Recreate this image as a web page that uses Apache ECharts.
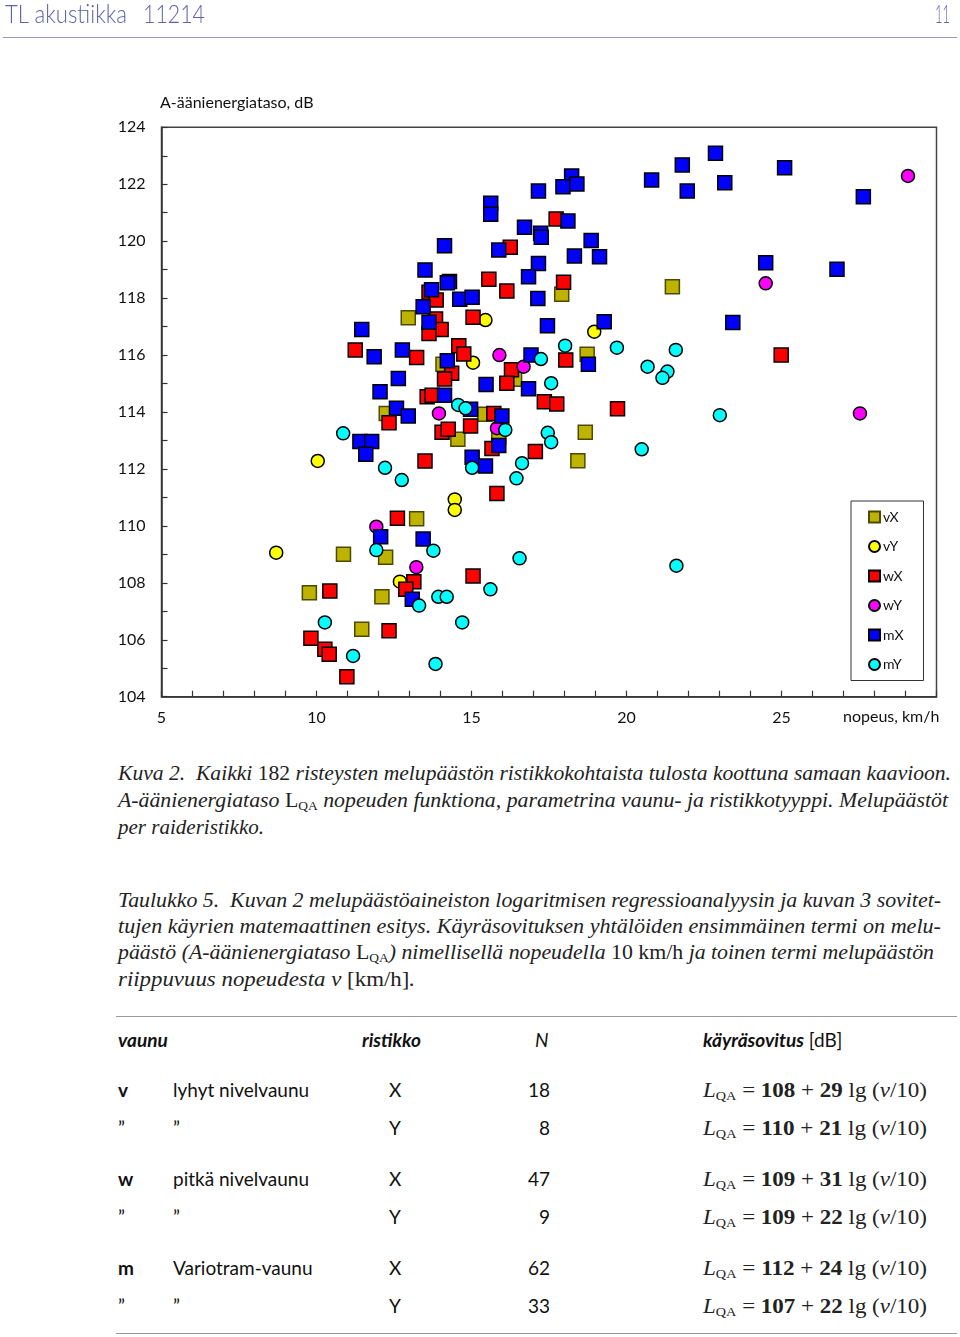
<!DOCTYPE html>
<html><head><meta charset="utf-8">
<script src="https://cdn.jsdelivr.net/npm/echarts@6/dist/echarts.min.js"></script>
<style>
html,body{margin:0;padding:0;background:#fff;}
body{width:960px;height:1337px;position:relative;overflow:hidden;}
#chart{position:absolute;left:0;top:0;width:960px;height:740px;}
.t{position:absolute;white-space:nowrap;transform-origin:0 50%;}
.hdr{font-family:Lato,"Open Sans",sans-serif;color:#5d62ad;font-size:26px;font-weight:300;}
.cap{font-family:"Liberation Serif","DejaVu Serif",serif;font-style:italic;font-size:21px;color:#222;line-height:26px;}
.cap .u{font-style:normal;}
.cap sub,.f sub{font-size:62%;vertical-align:-0.25em;font-style:normal;}
.tab{font-family:Lato,"Open Sans",sans-serif;font-size:19px;color:#111;line-height:24px;}
.f{font-family:"Liberation Serif","DejaVu Serif",serif;font-size:21px;color:#222;line-height:24px;}
.f i{font-style:italic;}
.rule{position:absolute;height:0;border-top:1.5px solid #999;}
</style></head>
<body>
<div id="chart"></div>

<div class="t hdr" data-w="122" style="left:5px;top:-3px;">TL akustiikka</div>
<div class="t hdr" data-w="62" style="left:143px;top:-3px;">11214</div>
<div class="t hdr" data-w="15" style="left:935px;top:-3px;">11</div>
<div class="rule" style="left:3px;top:37px;width:954px;border-top:1.5px solid #9a9ac0;"></div>

<div class="t cap" data-w="833" style="left:118px;top:760px;">Kuva 2.&nbsp; Kaikki <span class="u">182</span> risteysten melupäästön ristikkokohtaista tulosta koottuna samaan kaavioon.</div>
<div class="t cap" data-w="830" style="left:118px;top:787px;">A-äänienergiataso <span class="u">L<sub>QA</sub></span> nopeuden funktiona, parametrina vaunu- ja ristikkotyyppi. Melupäästöt</div>
<div class="t cap" data-w="146" style="left:118px;top:814px;">per raideristikko.</div>

<div class="t cap" data-w="823" style="left:118px;top:887px;">Taulukko 5.&nbsp; Kuvan 2 melupäästöaineiston logaritmisen regressioanalyysin ja kuvan 3 sovitet-</div>
<div class="t cap" data-w="823" style="left:118px;top:913px;">tujen käyrien matemaattinen esitys. Käyräsovituksen yhtälöiden ensimmäinen termi on melu-</div>
<div class="t cap" data-w="816" style="left:118px;top:939px;">päästö (A-äänienergiataso <span class="u">L<sub>QA</sub></span>) nimellisellä nopeudella <span class="u">10 km/h</span> ja toinen termi melupäästön</div>
<div class="t cap" data-w="297" style="left:118px;top:966px;">riippuvuus nopeudesta <span>v</span> <span class="u">[km/h]</span>.</div>

<div class="rule" style="left:116px;top:1016px;width:841px;"></div>
<div class="rule" style="left:116px;top:1333px;width:841px;"></div>

<div id="table"></div>

<script>
// ---------- DATA ----------
const xTickLabels = ['5', '10', '15', '20', '25'];
const yTickLabels = ['104', '106', '108', '110', '112', '114', '116', '118', '120', '122', '124'];
const seriesNames = ['vX', 'vY', 'wX', 'wY', 'mX', 'mY'];

const vX = [[12.96,117.31],[17.91,118.14],[18.73,116.03],[14.08,115.68],[16.39,115.15],[15.43,113.92],
  [12.25,113.95],[21.48,118.40],[14.56,113.04],[18.67,113.29],[18.43,112.29],[13.23,110.25],
  [12.23,108.90],[12.11,107.51],[10.87,109.00],[9.77,107.65],[11.46,106.37],[15.88,113.12]];

const vY = [[15.45,117.23],[18.96,116.82],[15.05,115.73],[10.04,112.28],[8.70,109.06],
  [14.46,110.93],[14.46,110.56],[12.69,108.04]];

const wX = [[11.25,116.18],[17.73,120.78],[16.25,119.79],[15.56,118.66],[16.14,118.25],[17.97,118.56],
  [13.63,118.21],[13.86,117.93],[15.05,117.33],[13.84,117.27],[14.02,116.90],[13.63,116.76],
  [14.59,116.33],[14.75,116.04],[13.23,115.91],[18.04,115.83],[16.29,115.48],[16.14,115.01],
  [14.36,115.36],[14.13,115.16],[13.57,114.54],[13.73,114.59],[17.35,114.36],[17.75,114.28],
  [19.71,114.11],[15.72,113.95],[12.34,113.62],[14.05,113.29],[14.25,113.39],[14.97,113.51],
  [15.66,112.72],[17.06,112.61],[13.50,112.28],[15.82,111.14],[12.61,110.27],[15.05,108.24],
  [13.14,108.04],[12.88,107.77],[12.34,106.32],[10.43,107.71],[9.82,106.05],[10.27,105.67],
  [10.41,105.49],[10.98,104.70],[24.99,116.00]];

const wY = [[29.08,122.29],[24.49,118.52],[27.53,113.95],[15.90,116.00],[16.68,115.59],
  [13.95,113.95],[15.82,113.43],[11.93,109.97],[13.22,108.55]];

const mX = [[11.46,116.90],[11.86,115.94],[12.77,116.18],[12.64,115.18],[12.05,114.71],[12.58,114.13],
  [12.96,113.86],[18.23,122.29],[17.95,121.91],[18.40,122.01],[17.16,121.76],[15.62,121.33],
  [15.62,120.95],[18.11,120.71],[16.71,120.49],[17.23,120.28],[17.25,120.14],[18.86,120.02],
  [14.13,119.84],[15.88,119.69],[18.32,119.48],[19.13,119.45],[17.16,119.22],[16.84,118.75],
  [13.50,118.99],[14.29,118.58],[14.22,118.54],[13.71,118.29],[14.62,117.96],[15.02,118.03],
  [17.14,117.99],[13.44,117.70],[13.63,117.15],[17.45,117.03],[19.28,117.17],[14.22,115.80],
  [16.92,116.00],[18.77,115.68],[15.47,114.97],[16.84,114.82],[14.13,114.59],[14.97,114.10],
  [15.98,113.86],[22.87,123.09],[21.80,122.68],[20.81,122.15],[21.96,121.76],[23.17,122.05],
  [25.10,122.58],[27.64,121.56],[24.49,119.24],[26.79,119.01],[23.43,117.14],[15.88,112.82],
  [15.02,112.41],[15.45,112.10],[12.07,109.62],[13.44,109.54],[13.09,107.42],[11.40,112.96],
  [11.78,112.96],[11.59,112.52]];

const mY = [[18.02,116.33],[19.69,116.26],[17.24,115.86],[17.57,115.01],[14.57,114.25],[14.81,114.13],
  [21.59,116.18],[20.68,115.59],[21.32,115.42],[21.16,115.20],[23.01,113.89],[16.09,113.37],
  [17.46,113.27],[17.57,112.94],[12.21,112.04],[12.75,111.61],[15.02,112.04],[16.63,112.20],
  [16.45,111.67],[13.77,109.13],[16.55,108.86],[11.93,109.15],[13.93,107.51],[14.20,107.51],
  [13.31,107.20],[15.61,107.77],[14.70,106.61],[13.84,105.15],[20.49,112.69],[21.61,108.60],
  [10.86,113.25],[10.27,106.61],[11.18,105.43]];

// table
const tabWagon = ['v', '”', 'w', '”', 'm', '”'];
const tabName = ['lyhyt nivelvaunu', '”', 'pitkä nivelvaunu', '”', 'Variotram-vaunu', '”'];
const tabGrid = ['X', 'Y', 'X', 'Y', 'X', 'Y'];
const tabN = [18, 8, 47, 9, 62, 33];
const tabA = [108, 110, 109, 109, 112, 107];
const tabB = [29, 21, 31, 22, 24, 22];

// ---------- TABLE ----------
(function(){
  const rowsY = [1078, 1116, 1167, 1205, 1256, 1294];
  let h = '';
  h += '<div class="t tab" style="left:118px;top:1028px;font-weight:700;font-style:italic;">vaunu</div>';
  h += '<div class="t tab" style="left:362px;top:1028px;font-weight:700;font-style:italic;">ristikko</div>';
  h += '<div class="t tab" style="left:535px;top:1028px;font-style:italic;">N</div>';
  h += '<div class="t tab" style="left:703px;top:1028px;"><b><i>käyräsovitus</i></b> [dB]</div>';
  for (let i = 0; i < 6; i++) {
    const y = rowsY[i];
    const q = tabWagon[i] === '”';
    h += '<div class="t tab" style="left:118px;top:' + y + 'px;' + (q ? '' : 'font-weight:700;') + '">' + tabWagon[i] + '</div>';
    h += '<div class="t tab" style="left:173px;top:' + y + 'px;">' + tabName[i] + '</div>';
    h += '<div class="t tab" style="left:389px;top:' + y + 'px;">' + tabGrid[i] + '</div>';
    h += '<div class="t tab" style="left:500px;width:50px;text-align:right;top:' + y + 'px;">' + tabN[i] + '</div>';
    h += '<div class="t f" data-w="224" style="left:703px;top:' + y + 'px;"><i>L</i><sub>QA</sub> = <b>' + tabA[i] + '</b> + <b>' + tabB[i] + '</b> lg (<i>v</i>/10)</div>';
  }
  document.getElementById('table').innerHTML = h;
})();

// fit text lines to measured widths
document.querySelectorAll('[data-w]').forEach(function(el){
  const w = el.getBoundingClientRect().width;
  const target = +el.getAttribute('data-w');
  if (w > 0) el.style.transform = 'scaleX(' + (target / w) + ')';
});

// ---------- CHART ----------
const chart = echarts.init(document.getElementById('chart'), null, {renderer: 'canvas'});
const colors = {vX: '#bdb300', vY: '#ffff00', wX: '#ff0000', wY: '#ff00ff', mX: '#0000ff', mY: '#00ffff'};
const dataMap = {vX: vX, vY: vY, wX: wX, wY: wY, mX: mX, mY: mY};
const labelFont = {fontFamily: 'Lato, "Open Sans", sans-serif', fontSize: 16, color: '#111'};

const series = seriesNames.map(function(n){
  const sq = n[1] === 'X';
  return {
    name: n, type: 'scatter', data: dataMap[n],
    symbol: sq ? 'rect' : 'circle',
    symbolSize: sq ? 14 : 13,
    itemStyle: {color: colors[n], borderColor: n === 'vX' ? '#4d4a00' : '#000', borderWidth: 1.5, opacity: 1},
    emphasis: {disabled: true}
  };
});

chart.setOption({
  animation: false,
  backgroundColor: '#fff',
  grid: {left: 161.5, top: 127.3, width: 775, height: 569.4, show: true, borderColor: '#444', borderWidth: 1.5, containLabel: false},
  xAxis: {
    type: 'value', min: 5, max: 30, interval: 5,
    axisLine: {show: true, onZero: false, lineStyle: {color: '#333', width: 1.5}},
    axisTick: {show: true, inside: true, length: 6, lineStyle: {color: '#333', width: 1.2}},
    minorTick: {show: true, splitNumber: 5, length: 6, lineStyle: {color: '#333', width: 1.2}},
    splitLine: {show: false}, minorSplitLine: {show: false},
    axisLabel: Object.assign({margin: 13, formatter: function(v){ const s = String(v); return xTickLabels.indexOf(s) >= 0 ? s : ''; }}, labelFont)
  },
  yAxis: {
    type: 'value', min: 104, max: 124, interval: 2,
    axisLine: {show: true, onZero: false, lineStyle: {color: '#333', width: 1.5}},
    axisTick: {show: true, inside: true, length: 6, lineStyle: {color: '#333', width: 1.2}},
    minorTick: {show: true, splitNumber: 2, length: 6, lineStyle: {color: '#333', width: 1.2}},
    splitLine: {show: false}, minorSplitLine: {show: false},
    axisLabel: Object.assign({margin: 16, formatter: function(v){ const s = String(v); return yTickLabels.indexOf(s) >= 0 ? s : ''; }}, labelFont)
  },
  legend: {
    orient: 'vertical', left: 851, top: 501,
    data: seriesNames,
    itemWidth: 11, itemHeight: 11, itemGap: 15.5,
    padding: [9, 20, 9, 17],
    borderColor: '#333', borderWidth: 1, backgroundColor: '#fff',
    selectedMode: false,
    textStyle: {fontFamily: 'Lato, "Open Sans", sans-serif', fontSize: 14, color: '#111', lineHeight: 14, padding: [0, 0, 0, -2]}
  },
  graphic: [
    {type: 'text', left: 160, top: 95, style: {text: 'A-äänienergiataso, dB', font: '16px Lato, "Open Sans", sans-serif', fill: '#111'}},
    {type: 'text', left: 843, top: 709, style: {text: 'nopeus, km/h', font: '16px Lato, "Open Sans", sans-serif', fill: '#111'}}
  ],
  series: series
});
</script>
</body></html>
